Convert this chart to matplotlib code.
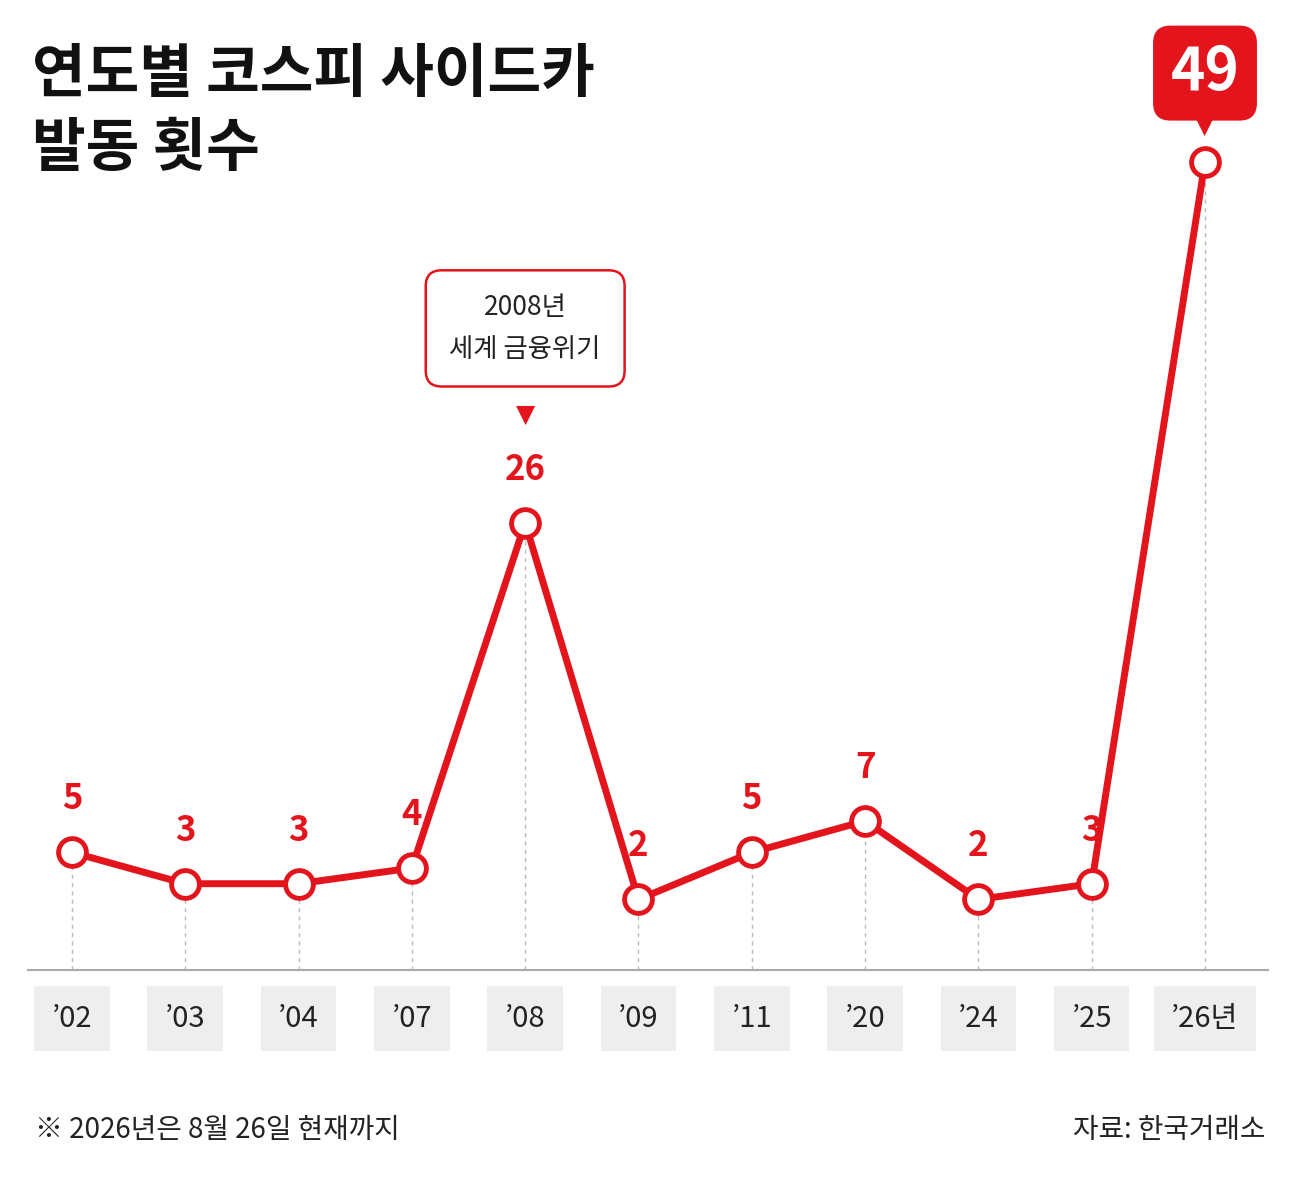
import matplotlib
matplotlib.use("Agg")
import matplotlib.pyplot as plt

plt.rcParams['font.family'] = ['Noto Sans CJK KR', 'DejaVu Sans']

years = ["’02", "’03", "’04", "’07", "’08", "’09", "’11", "’20", "’24", "’25", "’26년"]
counts = [5, 3, 3, 4, 26, 2, 5, 7, 2, 3, 49]

RED = "#e3141b"
W, H = 1313, 1198
fig = plt.figure(figsize=(W / 100, H / 100), dpi=100)
fig.patch.set_facecolor("white")

ax = fig.add_axes([28 / W, 1 - 970 / H, (1268 - 28) / W, (970 - 162) / H])
ax.set_xlim(-0.388, 10.556)
ax.set_ylim(-2.5, 49)
ax.axis("off")
ax.axhline(-2.5, color="#aaaaaa", lw=1.5, clip_on=False)

xs = list(range(len(years)))
for x, v in zip(xs, counts):
    ax.plot([x, x], [-2.5, v], ls=(0, (3, 3)), color="#bbbbbb", lw=1, zorder=1)
ax.plot(xs, counts, color=RED, lw=5, zorder=2, solid_joinstyle="round", clip_on=False)
ax.scatter(xs, counts, s=400, facecolor="white", edgecolor=RED, linewidth=3.5,
           zorder=3, clip_on=False)

for x, v in zip(xs, counts):
    if v == 49:
        continue
    ax.annotate(str(v), (x, v), xytext=(0, 26), textcoords="offset points",
                ha="center", va="bottom", fontsize=25, fontweight="bold", color=RED)

# x tick boxes
for x, lab in zip(xs, years):
    ax.annotate(lab, (x, -2.5), xytext=(0, -35), textcoords="offset points",
                ha="center", va="center", fontsize=21, color="#222222",
                bbox=dict(boxstyle="square,pad=0.6", fc="#eeeeee", ec="none"))

# 2008 callout
ax.annotate("2008년\n세계 금융위기", (4, 26), xytext=(0, 140), textcoords="offset points",
            ha="center", va="center", fontsize=19, color="#222222", linespacing=1.7,
            bbox=dict(boxstyle="round,pad=0.9,rounding_size=0.6", fc="white", ec=RED, lw=1.8))
ax.annotate("▼", (4, 26), xytext=(0, 78), textcoords="offset points",
            ha="center", va="center", fontsize=18, color=RED, family=["DejaVu Sans"])

# 49 callout
ax.annotate("49", (10, 49), xytext=(0, 64), textcoords="offset points",
            ha="center", va="center", fontsize=42, fontweight="bold", color="white",
            bbox=dict(boxstyle="round,pad=0.3,rounding_size=0.3", fc=RED, ec="none"))
ax.annotate("▼", (10, 49), xytext=(0, 26), textcoords="offset points",
            ha="center", va="center", fontsize=18, color=RED, family=["DejaVu Sans"])

fig.text(32 / W, 1 - 112 / H, "연도별 코스피 사이드카\n발동 횟수", fontsize=42, fontweight="bold",
         color="#111111", ha="left", va="center", linespacing=1.3)

fig.text(35 / W, 1 - 1130 / H, "※ 2026년은 8월 26일 현재까지", fontsize=20, color="#222222",
         ha="left", va="center")
fig.text(1265 / W, 1 - 1130 / H, "자료: 한국거래소", fontsize=20, color="#222222",
         ha="right", va="center")

fig.savefig("out.png", dpi=100)
